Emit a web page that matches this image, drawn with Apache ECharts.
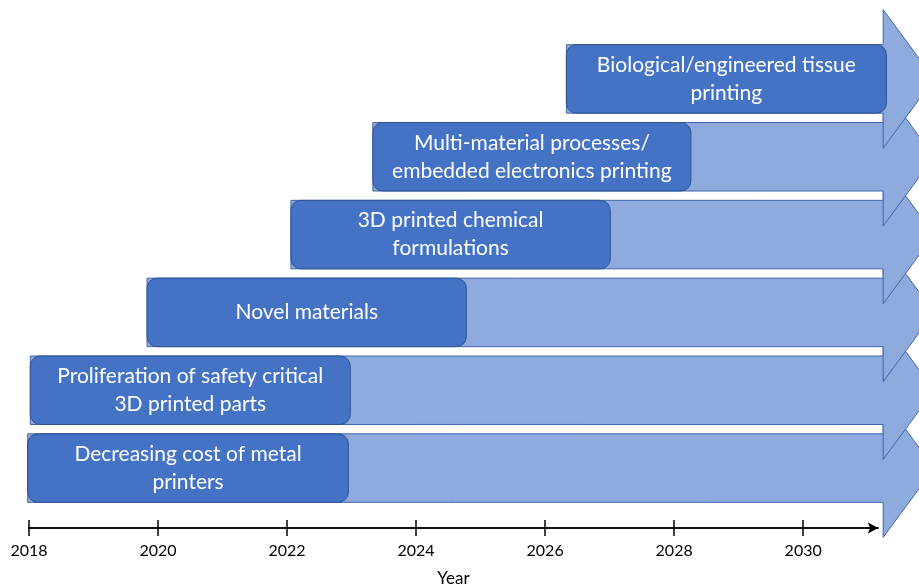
<!DOCTYPE html>
<html>
<head>
<meta charset="utf-8">
<script src="https://cdn.jsdelivr.net/npm/echarts@6/dist/echarts.min.js"></script>
<style>
  html, body { margin: 0; padding: 0; background: #fff; }
  #main { width: 919px; height: 586px; }
</style>
</head>
<body>
<div id="main"></div>
<script>
// rows, top to bottom
var milestones = [
  "Biological/engineered tissue\nprinting",
  "Multi-material processes/\nembedded electronics printing",
  "3D printed chemical\nformulations",
  "Novel materials",
  "Proliferation of safety critical\n3D printed parts",
  "Decreasing cost of metal\nprinters"
];
// year where each trend starts / where its label box ends
var startYears = [2026.33, 2023.33, 2022.06, 2019.83, 2018.02, 2017.98];
var labelEndYears = [2031.29, 2028.26, 2027.01, 2024.78, 2022.98, 2022.95];
// all arrows run on to the same horizon
var arrowEndYear = 2031.24;
var yearTicks = [2018, 2020, 2022, 2024, 2026, 2028, 2030];

var myChart = echarts.init(document.getElementById("main"));

// arrows drawn bottom row first so upper heads sit on top
var arrowData = [];
for (var i = milestones.length - 1; i >= 0; i--) {
  arrowData.push([i, startYears[i], arrowEndYear]);
}
var boxData = milestones.map(function (m, i) {
  return [i, startYears[i], labelEndYears[i], m];
});

function renderArrow(params, api) {
  var row = api.value(0);
  var a = api.coord([api.value(1), row]);
  var b = api.coord([api.value(2), row]);
  var band = api.size([0, 1])[1];
  var bh = band * 0.44;
  var hh = band * 0.89;
  var cy = a[1];
  var headLen = 51;
  return {
    type: "polygon",
    shape: {
      points: [
        [a[0], cy - bh], [b[0], cy - bh], [b[0], cy - hh],
        [b[0] + headLen, cy],
        [b[0], cy + hh], [b[0], cy + bh], [a[0], cy + bh]
      ]
    },
    style: { fill: "#8FAADC", stroke: "#3F66AC", lineWidth: 1 }
  };
}

function renderBox(params, api) {
  var row = api.value(0);
  var a = api.coord([api.value(1), row]);
  var b = api.coord([api.value(2), row]);
  var band = api.size([0, 1])[1];
  var h = band * 0.88;
  var text = milestones[row];
  return {
    type: "group",
    children: [
      {
        type: "rect",
        shape: { x: a[0], y: a[1] - h / 2, width: b[0] - a[0], height: h, r: 10 },
        style: { fill: "#4472C4", stroke: "#2F528F", lineWidth: 1 }
      },
      {
        type: "text",
        x: (a[0] + b[0]) / 2,
        y: a[1],
        style: {
          text: text,
          fill: "#ffffff",
          fontSize: 21,
          fontFamily: "Lato",
          lineHeight: 28,
          align: "center",
          verticalAlign: "middle"
        }
      }
    ]
  };
}

function yearLabel(v) {
  return String(v);
}

var xCommon = {
  type: "value",
  position: "bottom",
  min: 2018,
  max: 2031.16,
  offset: 21,
  splitLine: { show: false },
  axisLine: {
    show: true,
    onZero: false,
    symbol: ["none", "arrow"],
    symbolSize: [8, 10],
    lineStyle: { color: "#000", width: 1.5 }
  }
};

myChart.setOption({
  animation: false,
  grid: { left: 29, right: 41, top: 40, bottom: 79, outerBoundsMode: "none" },
  xAxis: [
    Object.assign({}, xCommon, {
      name: "Year",
      nameLocation: "middle",
      nameGap: 42,
      nameTextStyle: { fontSize: 17, color: "#000", fontFamily: "Lato" },
      axisTick: {
        show: true,
        inside: false,
        length: 8,
        customValues: yearTicks,
        lineStyle: { color: "#000", width: 1.5 }
      },
      axisLabel: {
        customValues: yearTicks,
        formatter: yearLabel,
        margin: 15,
        fontSize: 16,
        color: "#000",
        fontFamily: "Lato"
      }
    }),
    Object.assign({}, xCommon, {
      axisTick: {
        show: true,
        inside: true,
        length: 8,
        customValues: yearTicks,
        lineStyle: { color: "#000", width: 1.5 }
      },
      axisLabel: { show: false }
    })
  ],
  yAxis: {
    type: "category",
    inverse: true,
    data: milestones,
    show: false
  },
  series: [
    {
      type: "custom",
      renderItem: renderArrow,
      data: arrowData,
      clip: false,
      z: 2
    },
    {
      type: "custom",
      renderItem: renderBox,
      data: boxData,
      clip: false,
      z: 3
    }
  ]
});
</script>
</body>
</html>
